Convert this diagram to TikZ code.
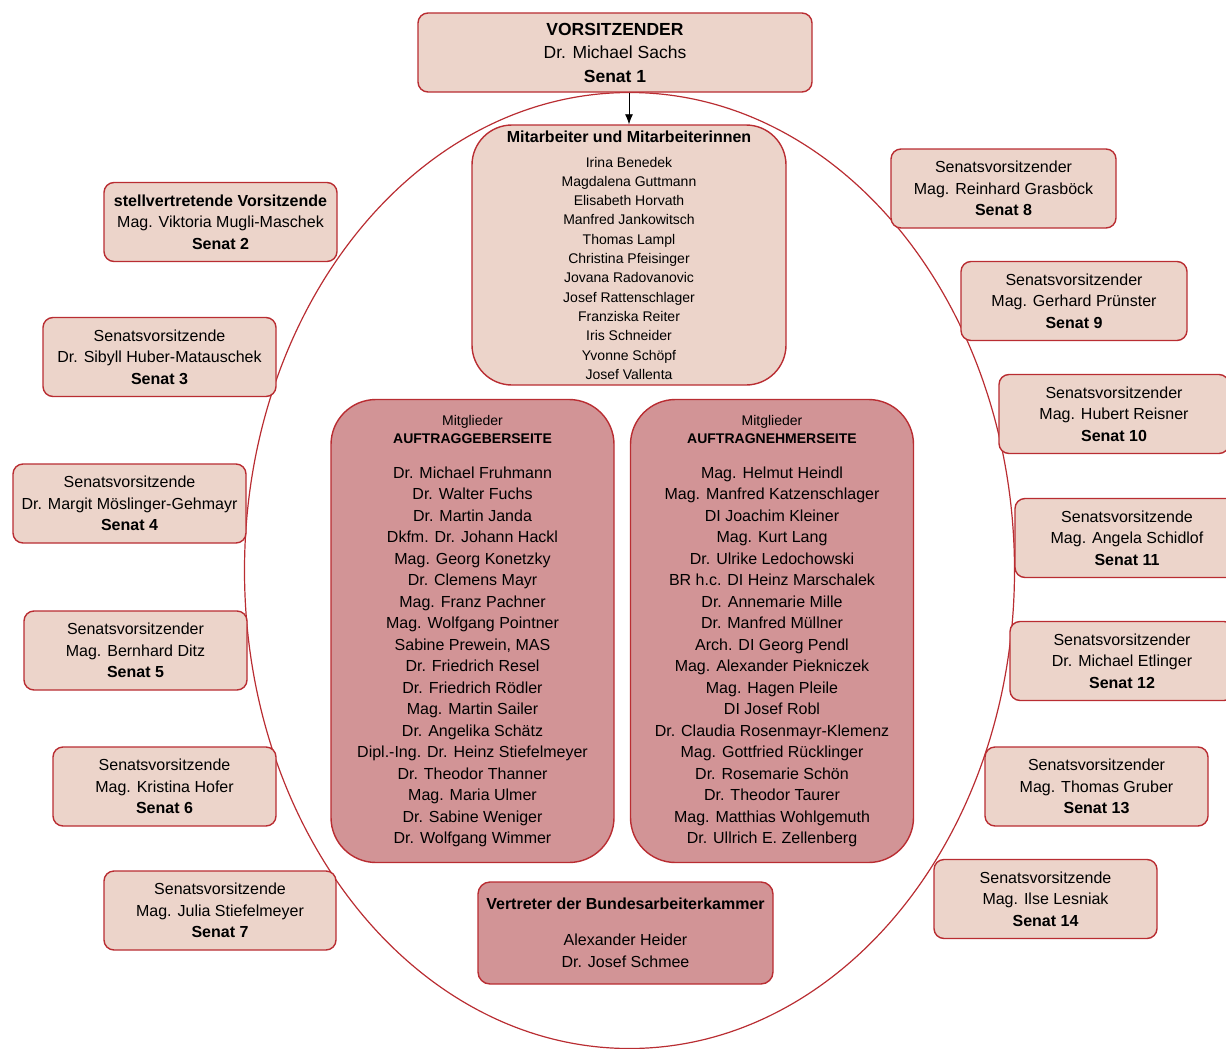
\documentclass[tikz,border=0pt]{standalone}
\usepackage{fontspec}
\setmainfont{Liberation Sans}
\usetikzlibrary{arrows.meta}

\begin{document}
\begin{tikzpicture}[x=1pt,y=-1pt,
    box/.style={draw=kRed,line width=1.4pt,fill=kLight,rounded corners=10pt,
                align=center,inner sep=0pt,font=\fontsize{16}{21.5}\selectfont},
    darkbox/.style={box,fill=kDark}]
  \definecolor{kRed}{RGB}{185,45,50}
  \definecolor{kLight}{RGB}{236,212,202}
  \definecolor{kDark}{RGB}{210,148,150}

  % page
  \clip (0,0) rectangle (1226,1049);

  % circle of the senate
  \draw[color=kRed,line width=1.2pt] (629.5,570.5) ellipse [x radius=385, y radius=478];

  % chair and staff
  \node[box,minimum width=394pt,minimum height=79pt,font=\fontsize{17.5}{23.5}\selectfont]
    (vorsitz) at (615,52.5) {\textbf{VORSITZENDER}\\Dr. Michael Sachs\\\textbf{Senat 1}};
  \node[box,minimum width=314pt,minimum height=260pt,rounded corners=40pt,
        font=\fontsize{14}{19.3}\selectfont]
    (mitarb) at (629,255) {{\fontsize{16}{16}\selectfont\textbf{Mitarbeiter und Mitarbeiterinnen}}\\[5.7pt]
      Irina Benedek\\Magdalena Guttmann\\Elisabeth Horvath\\Manfred Jankowitsch\\
      Thomas Lampl\\Christina Pfeisinger\\Jovana Radovanovic\\Josef Rattenschlager\\
      Franziska Reiter\\Iris Schneider\\Yvonne Schöpf\\Josef Vallenta};
  \draw[-{Latex[length=10pt,width=8pt]},line width=0.8pt] (mitarb.north |- vorsitz.south) -- (mitarb.north);

  % members
  \node[darkbox,minimum width=283pt,minimum height=463pt,rounded corners=45pt]
    (geber) at (472.5,631) {{\fontsize{14}{14}\selectfont Mitglieder}\\[-3.5pt]
      {\fontsize{14}{14}\selectfont\textbf{AUFTRAGGEBERSEITE}}\\[13.5pt]
      Dr. Michael Fruhmann\\Dr. Walter Fuchs\\Dr. Martin Janda\\Dkfm. Dr. Johann Hackl\\
      Mag. Georg Konetzky\\Dr. Clemens Mayr\\Mag. Franz Pachner\\Mag. Wolfgang Pointner\\
      Sabine Prewein, MAS\\Dr. Friedrich Resel\\Dr. Friedrich Rödler\\Mag. Martin Sailer\\
      Dr. Angelika Schätz\\Dipl.-Ing. Dr. Heinz Stiefelmeyer\\Dr. Theodor Thanner\\
      Mag. Maria Ulmer\\Dr. Sabine Weniger\\Dr. Wolfgang Wimmer};
  \node[darkbox,minimum width=283pt,minimum height=463pt,rounded corners=45pt]
    (nehmer) at (772,631) {{\fontsize{14}{14}\selectfont Mitglieder}\\[-3.5pt]
      {\fontsize{14}{14}\selectfont\textbf{AUFTRAGNEHMERSEITE}}\\[13.5pt]
      Mag. Helmut Heindl\\Mag. Manfred Katzenschlager\\DI Joachim Kleiner\\Mag. Kurt Lang\\
      Dr. Ulrike Ledochowski\\BR h.c. DI Heinz Marschalek\\Dr. Annemarie Mille\\
      Dr. Manfred Müllner\\Arch. DI Georg Pendl\\Mag. Alexander Piekniczek\\
      Mag. Hagen Pleile\\DI Josef Robl\\Dr. Claudia Rosenmayr-Klemenz\\
      Mag. Gottfried Rücklinger\\Dr. Rosemarie Schön\\Dr. Theodor Taurer\\
      Mag. Matthias Wohlgemuth\\Dr. Ullrich E. Zellenberg};
  \node[darkbox,minimum width=295pt,minimum height=102pt,rounded corners=12pt,
        font=\fontsize{16}{22}\selectfont]
    (kammer) at (625.5,933) {\textbf{Vertreter der Bundesarbeiterkammer}\\[14pt]
      Alexander Heider\\Dr. Josef Schmee};

  % senates round the circle
  \foreach \n/\cx/\cy/\w/\role/\who in {
      2/220.5/222/233/\textbf{stellvertretende Vorsitzende}/Mag. Viktoria Mugli-Maschek,
      3/159.5/357/233/Senatsvorsitzende/Dr. Sibyll Huber-Matauschek,
      4/129.5/503.5/233/Senatsvorsitzende/Dr. Margit Möslinger-Gehmayr,
      5/135.5/650.5/223/Senatsvorsitzender/Mag. Bernhard Ditz,
      6/164.5/786.5/223/Senatsvorsitzende/Mag. Kristina Hofer,
      7/220/910.5/232/Senatsvorsitzende/Mag. Julia Stiefelmeyer,
      8/1003.5/188.5/225/Senatsvorsitzender/Mag. Reinhard Grasböck,
      9/1074/301/226/Senatsvorsitzender/Mag. Gerhard Prünster,
      10/1114/414/230/Senatsvorsitzender/Mag. Hubert Reisner,
      11/1127/538/224/Senatsvorsitzende/Mag. Angela Schidlof,
      12/1122/661/224/Senatsvorsitzender/Dr. Michael Etlinger,
      13/1096.5/786.5/223/Senatsvorsitzender/Mag. Thomas Gruber,
      14/1045.5/899/223/Senatsvorsitzende/Mag. Ilse Lesniak}
  {
    \node[box,minimum width=\w pt,minimum height=79pt] (senat\n) at (\cx,\cy)
      {\role\\\who\\\textbf{Senat \n}};
  }
\end{tikzpicture}
\end{document}
